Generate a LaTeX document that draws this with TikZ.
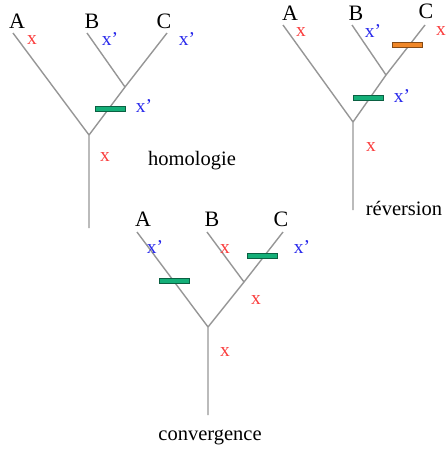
\documentclass[tikz,border=0pt]{standalone}
\usepackage{fontspec}
\setmainfont{Liberation Serif}
\usetikzlibrary{positioning}
\definecolor{branchcol}{RGB}{150,150,150}
\definecolor{anc}{RGB}{250,60,60}
\definecolor{der}{RGB}{40,40,235}
\definecolor{evgreen}{RGB}{20,175,120}
\definecolor{evorange}{RGB}{240,135,40}

\tikzset{
  branch/.style={draw=branchcol,line width=1.4pt},
  taxon/.style={font=\fontsize{22}{22}\selectfont,inner sep=0pt},
  stateA/.style={anc,font=\fontsize{19.5}{19.5}\selectfont,inner sep=0pt},
  stateD/.style={der,font=\fontsize{19.5}{19.5}\selectfont,inner sep=0pt},
  word/.style={font=\fontsize{20.5}{20.5}\selectfont,inner sep=0pt},
  change/.style={draw=#1!55!black,fill=#1,line width=0.9pt,minimum width=30pt,minimum height=5.5pt,inner sep=0pt},
}

\begin{document}
\begin{tikzpicture}[x=1pt,y=-1pt]
  \useasboundingbox (0,0) rectangle (446,450);
  % homologie
  \coordinate (h-root) at (89,228);
  \coordinate (h-fork) at (89,135);
  \coordinate (h-in) at (125,87);
  \coordinate (h-a) at (13,33);
  \coordinate (h-b) at (87,33);
  \coordinate (h-c) at (167,33);
  \draw[branch] (h-root) -- (h-fork) -- (h-a);
  \draw[branch] (h-fork) -- (h-in) -- (h-c);
  \draw[branch] (h-in) -- (h-b);
  \node[change=evgreen] (h-bar) at (110,109) {};
  \node[taxon] (h-la) at (17,21) {A};
  \node[taxon] (h-lb) at (92,21) {B};
  \node[taxon] (h-lc) at (164,21) {C};
  \node[stateA] (h-xa) at (32,40) {x};
  \node[stateD] (h-xb) at (110,39) {x’};
  \node[stateD] (h-xc) at (187,39) {x’};
  \node[stateD] (h-xin) at (144,106) {x’};
  \node[stateA] (h-xr) at (105,157) {x};
  \node[word] (h-name) at (192,161) {homologie};

  % reversion
  \coordinate (r-root) at (353,210);
  \coordinate (r-fork) at (353,122);
  \coordinate (r-in) at (386,75);
  \coordinate (r-a) at (283,25);
  \coordinate (r-b) at (352,25);
  \coordinate (r-c) at (425,25);
  \draw[branch] (r-root) -- (r-fork) -- (r-a);
  \draw[branch] (r-fork) -- (r-in) -- (r-c);
  \draw[branch] (r-in) -- (r-b);
  \node[change=evorange] (r-bar1) at (407,45) {};
  \node[change=evgreen] (r-bar2) at (368,98) {};
  \node[taxon] (r-la) at (290,13) {A};
  \node[taxon] (r-lb) at (356,13) {B};
  \node[taxon] (r-lc) at (426,11) {C};
  \node[stateA] (r-xa) at (301,32) {x};
  \node[stateD] (r-xb) at (373,31) {x’};
  \node[stateA] (r-xc) at (441,31) {x};
  \node[stateD] (r-xin) at (402,96) {x’};
  \node[stateA] (r-xr) at (371,147) {x};
  \node[word] (r-name) at (404,208) {réversion};

  % convergence
  \coordinate (c-root) at (208,415);
  \coordinate (c-fork) at (208,327);
  \coordinate (c-in) at (244,282);
  \coordinate (c-a) at (137,232);
  \coordinate (c-b) at (207,232);
  \coordinate (c-c) at (283,232);
  \draw[branch] (c-root) -- (c-fork) -- (c-a);
  \draw[branch] (c-fork) -- (c-in) -- (c-c);
  \draw[branch] (c-in) -- (c-b);
  \node[change=evgreen] (c-bar1) at (174,281) {};
  \node[change=evgreen] (c-bar2) at (262,256) {};
  \node[taxon] (c-la) at (143,219) {A};
  \node[taxon] (c-lb) at (212,219) {B};
  \node[taxon] (c-lc) at (281,219) {C};
  \node[stateD] (c-xa) at (155,247) {x’};
  \node[stateA] (c-xb) at (225,249) {x};
  \node[stateD] (c-xc) at (302,247) {x’};
  \node[stateA] (c-xin) at (256,300) {x};
  \node[stateA] (c-xr) at (225,352) {x};
  \node[word] (c-name) at (210,437) {convergence};
\end{tikzpicture}
\end{document}
